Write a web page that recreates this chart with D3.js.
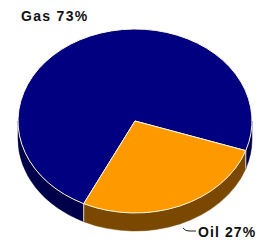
<!DOCTYPE html>
<html>
<head>
<meta charset="utf-8">
<script src="https://cdn.jsdelivr.net/npm/d3@7"></script>
<style>
  html, body { margin: 0; padding: 0; background: #fff; }
  svg { display: block; }
</style>
</head>
<body>
<svg class="pie3d" width="260" height="240"></svg>
<script>
// Fuel share data
const fuels = ['Gas', 'Oil'];
const shares = [73, 27];
const topColors = ['#000080', '#ff9900'];
const sideColors = ['#00004a', '#7a4800'];

const svg = d3.select('.pie3d');
const width = 260;
const height = 240;

// ellipse geometry of the tilted pie
const cx = 135, cy = 121;
const rx = 117, ry = 92;
const k = ry / rx;
const depth = 18;
const startDeg = 206;

const pie = d3.pie()
  .sort(null)
  .startAngle(startDeg * Math.PI / 180)
  .endAngle((startDeg + 360) * Math.PI / 180);

const arcs = pie(shares).map((d, i) => ({ ...d, name: fuels[i], i }));

const arc = d3.arc().innerRadius(0).outerRadius(rx);

const g = svg.append('g')
  .attr('transform', `translate(${cx},${cy}) scale(1,${k})`);

// side walls, only the front half (screen angle 0..PI) is visible
const dz = depth / k;
const sidePath = (a, b) => {
  const p = d3.path();
  p.moveTo(rx * Math.cos(a), rx * Math.sin(a));
  p.arc(0, 0, rx, a, b);
  p.lineTo(rx * Math.cos(b), rx * Math.sin(b) + dz);
  p.arc(0, dz, rx, b, a, true);
  p.closePath();
  return p.toString();
};

const sides = [];
arcs.forEach(d => {
  // convert pie angles (from 12 o'clock) to screen angles (from 3 o'clock)
  let a = d.startAngle - Math.PI / 2;
  let b = d.endAngle - Math.PI / 2;
  // test against front half in each full turn
  [-2, -1, 0, 1, 2].forEach(n => {
    const lo = Math.max(a, n * 2 * Math.PI);
    const hi = Math.min(b, n * 2 * Math.PI + Math.PI);
    if (hi > lo) sides.push({ a: lo, b: hi, i: d.i });
  });
});

g.append('g').selectAll('path')
  .data(sides)
  .join('path')
  .attr('d', d => sidePath(d.a, d.b))
  .attr('fill', d => sideColors[d.i])
  .attr('stroke', d => sideColors[d.i])
  .attr('stroke-width', 0.5)
  .attr('vector-effect', 'non-scaling-stroke');

// vertical edge where the slices meet on the front wall
const edges = [];
arcs.forEach(d => {
  const t = ((d.startAngle - Math.PI / 2) % (2 * Math.PI) + 2 * Math.PI) % (2 * Math.PI);
  if (t > 0 && t < Math.PI) edges.push(t);
});
g.append('g').selectAll('line')
  .data(edges)
  .join('line')
  .attr('x1', t => rx * Math.cos(t))
  .attr('x2', t => rx * Math.cos(t))
  .attr('y1', t => rx * Math.sin(t))
  .attr('y2', t => rx * Math.sin(t) + dz)
  .attr('stroke', '#d8d8d8')
  .attr('stroke-width', 1)
  .attr('vector-effect', 'non-scaling-stroke');

// top faces
g.append('g').selectAll('path')
  .data(arcs)
  .join('path')
  .attr('d', arc)
  .attr('fill', d => topColors[d.i])
  .attr('stroke', '#fff6d8')
  .attr('stroke-width', 1)
  .attr('stroke-linejoin', 'round')
  .attr('vector-effect', 'non-scaling-stroke');

// labels
const labelFont = '"Liberation Sans", Arial, sans-serif';
svg.append('text')
  .attr('x', 21)
  .attr('y', 21)
  .attr('font-family', labelFont)
  .attr('font-weight', 'bold')
  .attr('font-size', 14)
  .attr('letter-spacing', 1.3)
  .attr('fill', '#111')
  .text(`${fuels[0]} ${shares[0]}%`);

svg.append('path')
  .attr('d', 'M183,228 Q185,231 189,231 L196,231')
  .attr('fill', 'none')
  .attr('stroke', '#222')
  .attr('stroke-width', 1);

svg.append('text')
  .attr('x', 198)
  .attr('y', 237)
  .attr('font-family', labelFont)
  .attr('font-weight', 'bold')
  .attr('font-size', 14)
  .attr('letter-spacing', 1.1)
  .attr('fill', '#111')
  .text(`${fuels[1]} ${shares[1]}%`);
</script>
</body>
</html>
